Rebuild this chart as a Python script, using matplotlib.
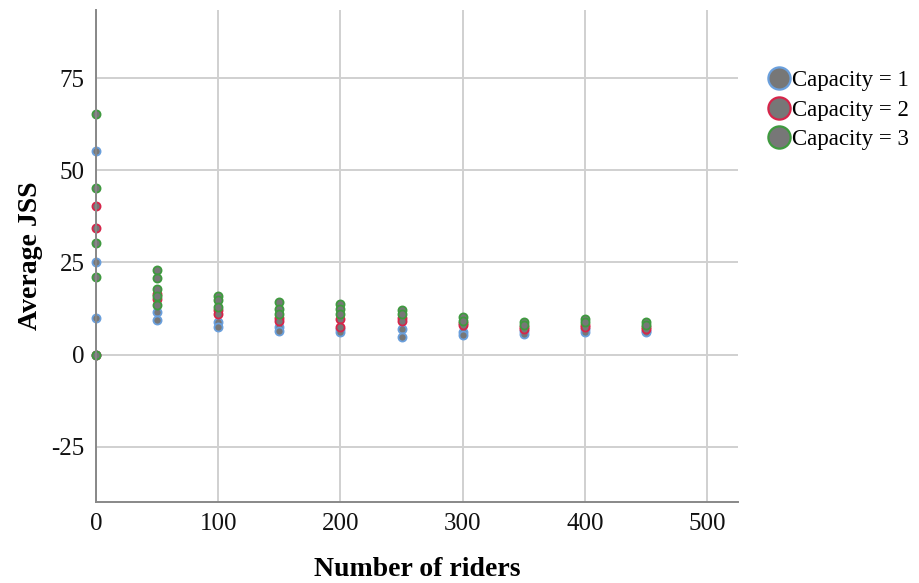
import matplotlib
matplotlib.use("Agg")
import matplotlib.pyplot as plt
from matplotlib.lines import Line2D

# mean JSS per simulation run, grouped by vehicle capacity
riders_c1 = [0, 0, 0, 0, 50, 50, 100, 100, 150, 150, 200, 200, 250, 250,
             300, 300, 350, 350, 400, 400, 450, 450]
jss_c1 = [55.2, 25.0, 10.0, 0.0, 11.5, 9.4, 8.8, 7.4, 7.4, 6.5, 7.0, 6.1,
          7.0, 4.7, 6.0, 5.2, 6.5, 5.6, 7.0, 6.1, 6.5, 6.1]

riders_c2 = [0, 0, 0, 50, 50, 100, 100, 150, 150, 200, 200, 250, 250,
             300, 300, 350, 350, 400, 400, 450, 450]
jss_c2 = [40.2, 34.2, 0.0, 16.5, 15.0, 12.0, 11.0, 10.0, 9.2, 9.7, 7.4,
          9.8, 9.2, 8.5, 7.9, 7.5, 7.0, 8.0, 7.5, 7.5, 7.0]

riders_c3 = [0, 0, 0, 0, 0, 50, 50, 50, 50, 50, 100, 100, 100, 150, 150, 150,
             200, 200, 200, 250, 250, 300, 300, 350, 350, 400, 400, 450, 450]
jss_c3 = [65.2, 45.1, 30.2, 20.9, 0.0, 23.0, 20.8, 17.8, 16.0, 13.5,
          16.0, 14.7, 12.9, 14.2, 12.4, 11.1, 13.8, 12.4, 11.0, 12.0, 11.0,
          10.1, 9.2, 8.8, 8.1, 9.7, 8.8, 8.8, 7.9]

labels = ["Capacity = 1", "Capacity = 2", "Capacity = 3"]
edge_colors = ["#6a9fdc", "#d6254a", "#3f9a3f"]
fill = "#777777"

plt.rcParams["font.family"] = ["Liberation Serif", "DejaVu Serif"]
plt.rcParams["axes.unicode_minus"] = False

fig = plt.figure(figsize=(9.2, 5.83), dpi=100)
ax = fig.add_axes([0.1043, 0.139, 0.802 - 0.1043, 0.983 - 0.139])

series = [(riders_c1, jss_c1), (riders_c2, jss_c2), (riders_c3, jss_c3)]
for (x, y), ec in zip(series, edge_colors):
    ax.scatter(x, y, s=34, facecolor=fill, edgecolor=ec, linewidth=1.3,
               zorder=3, clip_on=False)

ax.set_xlim(0, 525)
ax.set_ylim(-40, 93.5)
ax.set_xticks([0, 100, 200, 300, 400, 500])
ax.set_yticks([-25, 0, 25, 50, 75])
ax.grid(True, color="#d0d0d0", linewidth=1.4)
ax.set_axisbelow(True)
for side in ("top", "right"):
    ax.spines[side].set_visible(False)
for side in ("left", "bottom"):
    ax.spines[side].set_color("#888888")
    ax.spines[side].set_linewidth(1.4)
    ax.spines[side].set_zorder(4)
ax.tick_params(length=0, labelsize=18, pad=8, colors="#111111")

ax.set_xlabel("Number of riders", fontsize=20, fontweight="bold", labelpad=16)
ax.set_ylabel("Average JSS", fontsize=20, fontweight="bold", labelpad=6)

handles = [Line2D([], [], linestyle="none", marker="o", markersize=16,
                  markerfacecolor=fill, markeredgecolor=ec, markeredgewidth=1.6)
           for ec in edge_colors]
fig.legend(handles, labels, loc="upper left", bbox_to_anchor=(0.819, 0.900),
           frameon=False, fontsize=16.5, handletextpad=0.0, labelspacing=0.38,
           handlelength=1.2, borderpad=0)

fig.savefig("out.png", dpi=100)
